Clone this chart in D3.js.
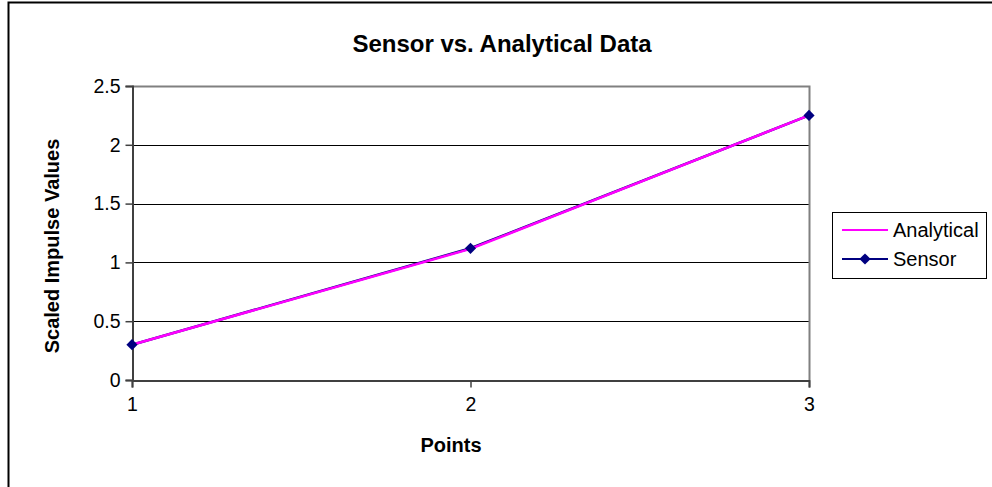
<!DOCTYPE html>
<html>
<head>
<meta charset="utf-8">
<script src="https://cdn.jsdelivr.net/npm/d3@7"></script>
<style>
  html, body { margin: 0; padding: 0; background: #fff; }
  svg { display: block; font-family: "Liberation Sans", Arial, sans-serif; }
</style>
</head>
<body>
<svg id="chart" width="992" height="487"></svg>
<script>
// Chart data
const points = [1, 2, 3];
const analytical = [0.30, 1.115, 2.25];
const sensor = [0.30, 1.12, 2.25];
const yTicks = [0, 0.5, 1, 1.5, 2, 2.5];
const yTickLabels = ["0", "0.5", "1", "1.5", "2", "2.5"];
const seriesNames = ["Analytical", "Sensor"];

const svg = d3.select("#chart");
const margin = { left: 132, top: 86, right: 809, bottom: 380 };

// Chart frame
svg.append("rect")
  .attr("x", 8.5).attr("y", 2.5)
  .attr("width", 1000).attr("height", 600)
  .attr("fill", "#fff").attr("stroke", "#000").attr("stroke-width", 2);

const x = d3.scaleLinear().domain([1, 3]).range([margin.left, margin.right]);
const y = d3.scaleLinear().domain([0, 2.5]).range([margin.bottom, margin.top]);

// Gridlines
svg.append("g")
  .selectAll("line")
  .data(yTicks.filter(t => t > 0))
  .join("line")
  .attr("x1", margin.left).attr("x2", margin.right)
  .attr("y1", d => Math.round(y(d)) + 0.5).attr("y2", d => Math.round(y(d)) + 0.5)
  .attr("stroke", "#000").attr("stroke-width", 1);

// Plot area border (top and right in gray)
svg.append("path")
  .attr("d", `M${margin.left},${margin.top + 0.5}H${margin.right + 0.5}V${margin.bottom}`)
  .attr("fill", "none").attr("stroke", "#808080").attr("stroke-width", 2);

// Axes
const yAxis = d3.axisLeft(y)
  .tickValues(yTicks)
  .tickFormat((d, i) => yTickLabels[i])
  .tickSize(7).tickPadding(5);
const gy = svg.append("g")
  .attr("transform", `translate(${margin.left + 0.5},0)`)
  .call(yAxis);

const xAxis = d3.axisBottom(x)
  .tickValues(points)
  .tickFormat(d3.format("d"))
  .tickSize(7).tickPadding(10);
const gx = svg.append("g")
  .attr("transform", `translate(0,${margin.bottom + 0.5})`)
  .call(xAxis);

[gy, gx].forEach(g => {
  g.select(".domain").attr("stroke", "#404040").attr("stroke-width", 2);
  g.selectAll(".tick line").attr("stroke", "#404040").attr("stroke-width", 1.5);
  g.selectAll(".tick text")
    .attr("font-size", 19.5)
    .attr("fill", "#000")
    .attr("font-family", "Liberation Sans, Arial, sans-serif");
});

// Series lines
const line = d3.line()
  .x((d, i) => x(points[i]))
  .y(d => y(d));

svg.append("path")
  .datum(sensor)
  .attr("d", line)
  .attr("fill", "none")
  .attr("stroke", "#000080")
  .attr("stroke-width", 2.5);

svg.append("path")
  .datum(analytical)
  .attr("d", line)
  .attr("fill", "none")
  .attr("stroke", "#ff00ff")
  .attr("stroke-width", 2.5);

// Sensor markers
const diamond = d3.symbol().type(d3.symbolDiamond2).size(80);
svg.append("g")
  .selectAll("path")
  .data(sensor)
  .join("path")
  .attr("transform", (d, i) => `translate(${x(points[i])},${y(d)})`)
  .attr("d", diamond)
  .attr("fill", "#000080");

// Title and axis titles
svg.append("text")
  .attr("x", 502).attr("y", 52)
  .attr("text-anchor", "middle")
  .attr("font-size", 24).attr("font-weight", "bold")
  .text("Sensor vs. Analytical Data");

svg.append("text")
  .attr("x", 451).attr("y", 452)
  .attr("text-anchor", "middle")
  .attr("font-size", 20).attr("font-weight", "bold")
  .text("Points");

svg.append("text")
  .attr("transform", "translate(59,246) rotate(-90)")
  .attr("text-anchor", "middle")
  .attr("font-size", 20).attr("font-weight", "bold")
  .text("Scaled Impulse Values");

// Legend
const legend = svg.append("g");
legend.append("rect")
  .attr("x", 832.5).attr("y", 212.5)
  .attr("width", 154).attr("height", 66)
  .attr("fill", "#fff").attr("stroke", "#000").attr("stroke-width", 1);

const legendColors = ["#ff00ff", "#000080"];
const legendY = [230, 259];
seriesNames.forEach((name, i) => {
  legend.append("line")
    .attr("x1", 842).attr("x2", 888)
    .attr("y1", legendY[i]).attr("y2", legendY[i])
    .attr("stroke", legendColors[i]).attr("stroke-width", 2);
  if (name === "Sensor") {
    legend.append("path")
      .attr("transform", `translate(865,${legendY[i]})`)
      .attr("d", diamond)
      .attr("fill", "#000080");
  }
  legend.append("text")
    .attr("x", 893).attr("y", legendY[i] + 7)
    .attr("font-size", 20)
    .text(name);
});
</script>
</body>
</html>
